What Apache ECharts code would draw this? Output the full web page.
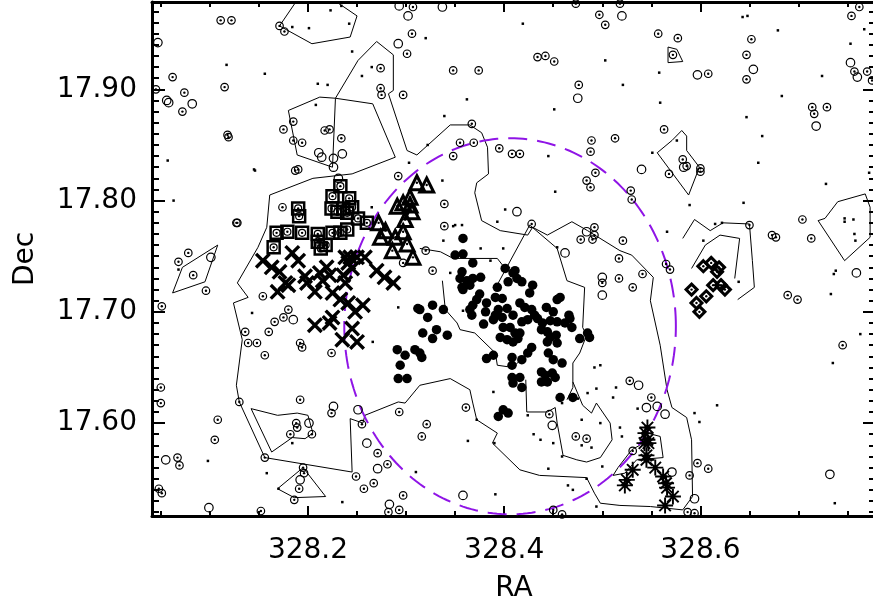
<!DOCTYPE html>
<head>
<meta charset="utf-8"/>
<style>
  html, body { margin: 0; padding: 0; background: #fff; }
</style>
<script src="https://cdn.jsdelivr.net/npm/echarts@6/dist/echarts.min.js"></script>
</head>
<body>
<div id="main" style="width: 873px; height: 602px;"></div>
<script type="text/javascript">
// axis ranges and ticks
var xMin = 328.041, xMax = 328.779;
var yMin = 17.5165, yMax = 17.9785;
var xMajor = [328.2, 328.4, 328.6];
var yMajor = [17.6, 17.7, 17.8, 17.9];
var xMinor = [];
for (var i = 1; i <= 15; i++) xMinor.push(+(328 + i * 0.05).toFixed(2));
var yMinor = [];
for (var j = 52; j <= 97; j++) yMinor.push(+(17 + j / 100).toFixed(2));

// dashed circle: centre RA, centre Dec, radius (deg)
var circleRA = 328.406, circleDec = 17.687, circleR = 0.169;

// sources with circled dot
var dottedCircles = [
  [328.111,17.962],[328.122,17.962],[328.171,17.957],[328.176,17.952],[328.062,17.911],[328.074,17.897],
  [328.115,17.902],[328.072,17.880],[328.045,17.900],[328.118,17.859],[328.119,17.857],[328.175,17.864],
  [328.185,17.871],[328.185,17.854],[328.187,17.827],[328.190,17.828],[328.174,17.794],[328.127,17.780],
  [328.078,17.753],[328.068,17.745],[328.083,17.733],[328.096,17.719],[328.154,17.714],[328.307,17.974],
  [328.306,17.950],[328.301,17.932],[328.274,17.919],[328.274,17.901],[328.275,17.895],[328.297,17.895],
  [328.348,17.917],[328.374,17.917],[328.367,17.869],[328.355,17.852],[328.369,17.852],[328.348,17.840],
  [328.497,17.967],[328.503,17.958],[328.473,17.977],[328.518,17.977],[328.557,17.950],[328.577,17.946],
  [328.572,17.931],[328.434,17.929],[328.442,17.930],[328.451,17.925],[328.476,17.904],[328.563,17.864],
  [328.489,17.854],[328.513,17.856],[328.488,17.844],[328.395,17.847],[328.408,17.842],[328.416,17.842],
  [328.582,17.837],[328.586,17.831],[328.568,17.824],[328.493,17.825],[328.484,17.818],[328.488,17.812],
  [328.529,17.809],[328.530,17.801],[328.428,17.779],[328.492,17.776],[328.492,17.769],[328.490,17.765],
  [328.478,17.765],[328.521,17.764],[328.339,17.797],[328.292,17.822],[328.339,17.777],[328.320,17.755],
  [328.517,17.748],[328.217,17.863],[328.222,17.864],[328.234,17.856],[328.194,17.852],[328.652,17.945],
  [328.647,17.931],[328.647,17.909],[328.762,17.974],[328.754,17.966],[328.757,17.916],[328.770,17.916],
  [328.775,17.908],[328.608,17.914],[328.714,17.884],[328.729,17.884],[328.716,17.878],[328.600,17.829],
  [328.600,17.826],[328.704,17.783],[328.713,17.766],[328.673,17.769],[328.677,17.767],[328.650,17.778],
  [328.565,17.743],[328.569,17.738],[328.541,17.734],[328.517,17.730],[328.531,17.722],[328.500,17.726],
  [328.689,17.715],[328.699,17.711],[328.745,17.670],[328.050,17.618],[328.130,17.619],[328.108,17.603],
  [328.105,17.585],[328.067,17.569],[328.069,17.562],[328.048,17.541],[328.051,17.537],[328.152,17.521],
  [328.156,17.569],[328.188,17.600],[328.189,17.596],[328.182,17.590],[328.204,17.590],[328.195,17.560],
  [328.196,17.555],[328.191,17.541],[328.186,17.531],[328.224,17.609],[328.192,17.621],[328.255,17.599],
  [328.271,17.573],[328.281,17.563],[328.249,17.552],[328.257,17.541],[328.267,17.546],[328.297,17.535],
  [328.282,17.520],[328.293,17.522],[328.293,17.610],[328.321,17.599],[328.316,17.588],[328.361,17.614],
  [328.446,17.608],[328.473,17.588],[328.484,17.586],[328.550,17.623],[328.528,17.638],[328.531,17.575],
  [328.597,17.564],[328.608,17.559],[328.589,17.553],[328.587,17.520],[328.594,17.519],[328.450,17.522],
  [328.459,17.518],[328.166,17.691],[328.175,17.695],[328.180,17.702],[328.136,17.682],[328.160,17.682],
  [328.139,17.672],[328.148,17.672],[328.156,17.661],[328.192,17.672],[328.194,17.668],[328.224,17.663],
  [328.128,17.780],[328.297,17.744],[328.327,17.737],[328.051,17.705],[328.050,17.632]
];
// sources shown as plain open circles
var openCircles = [
  [328.047,17.942],[328.056,17.890],[328.058,17.888],[328.082,17.887],[328.101,17.749],[328.293,17.975],
  [328.337,17.974],[328.302,17.966],[328.292,17.941],[328.520,17.966],[328.475,17.892],[328.540,17.828],
  [328.413,17.790],[328.484,17.772],[328.462,17.753],[328.211,17.843],[328.214,17.839],[328.226,17.838],
  [328.235,17.842],[328.226,17.830],[328.231,17.820],[328.654,17.918],[328.753,17.924],[328.760,17.911],
  [328.597,17.913],[328.718,17.867],[328.583,17.830],[328.759,17.735],[328.500,17.731],[328.500,17.715],
  [328.055,17.567],[328.099,17.524],[328.201,17.600],[328.226,17.615],[328.251,17.612],[328.260,17.582],
  [328.271,17.559],[328.192,17.549],[328.283,17.527],[328.358,17.535],[328.449,17.598],[328.537,17.634],
  [328.545,17.614],[328.556,17.615],[328.564,17.608],[328.571,17.556],[328.594,17.532],[328.732,17.554],
  [328.185,17.693]
];
// faint sources (small dots)
var smallDots = [
  [328.117,17.922],[328.156,17.914],[328.057,17.836],[328.145,17.828],[328.063,17.800],[328.184,17.956],
  [328.068,17.738],[328.201,17.955],[328.223,17.971],[328.234,17.975],[328.242,17.959],[328.245,17.934],
  [328.265,17.920],[328.255,17.912],[328.210,17.905],[328.220,17.904],[328.320,17.946],[328.362,17.891],
  [328.339,17.876],[328.322,17.850],[328.303,17.834],[328.419,17.959],[328.503,17.926],[328.558,17.915],
  [328.521,17.904],[328.451,17.882],[328.559,17.888],[328.445,17.840],[328.551,17.843],[328.452,17.808],
  [328.401,17.792],[328.393,17.781],[328.566,17.772],[328.337,17.818],[328.350,17.778],[328.357,17.778],
  [328.338,17.764],[328.376,17.757],[328.399,17.757],[328.208,17.886],[328.265,17.794],[328.643,17.965],
  [328.648,17.966],[328.679,17.953],[328.767,17.954],[328.753,17.941],[328.724,17.912],[328.683,17.894],
  [328.647,17.875],[328.663,17.858],[328.659,17.834],[328.576,17.854],[328.772,17.825],[328.728,17.815],
  [328.589,17.796],[328.644,17.798],[328.615,17.779],[328.622,17.780],[328.603,17.764],[328.639,17.727],
  [328.747,17.784],[328.747,17.781],[328.756,17.783],[328.757,17.770],[328.758,17.764],[328.738,17.737],
  [328.736,17.734],[328.733,17.716],[328.763,17.680],[328.735,17.654],[328.737,17.528],[328.098,17.566],
  [328.158,17.555],[328.184,17.582],[328.170,17.541],[328.235,17.529],[328.310,17.556],[328.363,17.584],
  [328.391,17.536],[328.390,17.582],[328.424,17.607],[328.430,17.590],[328.372,17.603],[328.459,17.618],
  [328.485,17.627],[328.475,17.622],[328.479,17.603],[328.498,17.600],[328.437,17.585],[328.450,17.582],
  [328.489,17.578],[328.479,17.580],[328.500,17.561],[328.459,17.570],[328.445,17.559],[328.465,17.544],
  [328.484,17.550],[328.470,17.540],[328.494,17.525],[328.514,17.632],[328.511,17.623],[328.518,17.596],
  [328.520,17.588],[328.536,17.613],[328.594,17.609],[328.599,17.601],[328.617,17.616],[328.348,17.777],
  [328.345,17.735],[328.358,17.701],[328.386,17.746],[328.454,17.758],[328.444,17.672],[328.492,17.650],
  [328.498,17.652],[328.494,17.631],[328.389,17.628],[328.146,17.827],[328.143,17.699],[328.266,17.673],
  [328.292,17.704]
];
// cluster members, filled circles
var filledCircles = [
  [328.358,17.766],[328.350,17.751],[328.358,17.752],[328.368,17.744],[328.357,17.736],[328.355,17.730],
  [328.362,17.728],[328.368,17.730],[328.376,17.731],[328.365,17.724],[328.357,17.722],[328.358,17.720],
  [328.393,17.722],[328.401,17.739],[328.411,17.737],[328.404,17.727],[328.413,17.730],[328.418,17.727],
  [328.429,17.724],[328.426,17.717],[328.391,17.713],[328.398,17.712],[328.375,17.716],[328.372,17.711],
  [328.368,17.706],[328.365,17.702],[328.382,17.708],[328.381,17.700],[328.367,17.697],[328.394,17.702],
  [328.391,17.697],[328.389,17.693],[328.398,17.695],[328.403,17.703],[328.409,17.697],[328.416,17.708],
  [328.421,17.704],[328.428,17.702],[328.431,17.697],[328.434,17.694],[328.424,17.693],[328.418,17.691],
  [328.399,17.686],[328.406,17.686],[328.396,17.677],[328.403,17.675],[328.409,17.673],[328.414,17.676],
  [328.416,17.681],[328.411,17.681],[328.379,17.689],[328.443,17.704],[328.450,17.700],[328.454,17.711],
  [328.457,17.713],[328.447,17.692],[328.439,17.690],[328.438,17.684],[328.444,17.682],[328.447,17.677],
  [328.454,17.691],[328.462,17.690],[328.467,17.694],[328.466,17.697],[328.469,17.686],[328.453,17.679],
  [328.454,17.672],[328.444,17.673],[328.428,17.668],[328.424,17.663],[328.418,17.657],[328.408,17.659],
  [328.408,17.652],[328.389,17.661],[328.382,17.658],[328.445,17.663],[328.450,17.657],[328.459,17.654],
  [328.477,17.676],[328.485,17.681],[328.487,17.677],[328.408,17.641],[328.416,17.641],[328.418,17.632],
  [328.409,17.636],[328.438,17.646],[328.442,17.643],[328.449,17.645],[328.452,17.641],[328.438,17.637],
  [328.444,17.637],[328.457,17.623],[328.470,17.623],[328.327,17.706],[328.322,17.695],[328.314,17.702],
  [328.338,17.702],[328.331,17.684],[328.342,17.679],[328.327,17.676],[328.314,17.663],[328.312,17.703],
  [328.317,17.681],[328.291,17.666],[328.299,17.661],[328.309,17.666],[328.316,17.659],[328.294,17.652],
  [328.292,17.640],[328.301,17.640],[328.394,17.606],[328.399,17.612],[328.404,17.609],[328.409,17.735]
];
var squares = [
  [328.233,17.813],[328.225,17.804],[328.242,17.802],[328.224,17.793],[328.236,17.793],[328.245,17.794],
  [328.230,17.790],[328.240,17.789],[328.251,17.784],[328.260,17.780],[328.190,17.793],[328.191,17.786],
  [328.168,17.771],[328.179,17.772],[328.194,17.771],[328.210,17.770],[328.225,17.771],[328.233,17.771],
  [328.240,17.774],[328.210,17.763],[328.218,17.760],[328.213,17.757],[328.165,17.758]
];
var triangles = [
  [328.311,17.816],[328.321,17.814],[328.304,17.803],[328.297,17.798],[328.304,17.796],[328.291,17.795],
  [328.306,17.790],[328.299,17.783],[328.272,17.780],[328.274,17.767],[328.289,17.767],[328.297,17.772],
  [328.301,17.761],[328.286,17.755],[328.307,17.749],[328.279,17.773]
];
var crosses = [
  [328.154,17.746],[328.163,17.740],[328.171,17.736],[328.184,17.753],[328.190,17.746],[328.177,17.726],
  [328.169,17.718],[328.180,17.724],[328.199,17.726],[328.207,17.718],[328.212,17.735],[328.219,17.740],
  [328.222,17.733],[328.215,17.728],[328.225,17.717],[328.238,17.749],[328.243,17.749],[328.250,17.749],
  [328.241,17.744],[328.245,17.739],[328.258,17.749],[328.236,17.733],[328.238,17.726],[328.270,17.737],
  [328.278,17.731],[328.287,17.726],[328.233,17.711],[328.241,17.708],[328.256,17.706],[328.248,17.700],
  [328.225,17.695],[328.222,17.690],[328.207,17.688],[328.245,17.685],[328.235,17.675],[328.250,17.673],
  [328.197,17.732]
];
var diamonds = [
  [328.603,17.741],[328.611,17.744],[328.619,17.740],[328.617,17.736],[328.613,17.724],[328.621,17.724],
  [328.625,17.720],[328.591,17.720],[328.606,17.714],[328.596,17.708],[328.599,17.700]
];
var asterisks = [
  [328.546,17.596],[328.544,17.591],[328.546,17.585],[328.543,17.582],[328.547,17.582],[328.545,17.571],
  [328.545,17.567],[328.554,17.560],[328.531,17.558],[328.525,17.549],[328.523,17.544],[328.562,17.552],
  [328.565,17.546],[328.566,17.542],[328.572,17.534],[328.564,17.526]
];

// density contours
var contourOuter = [
  [328.161,17.805],[328.205,17.820],[328.245,17.824],[328.289,17.839],[328.266,17.887],[328.228,17.892],
  [328.251,17.926],[328.270,17.943],[328.287,17.931],[328.287,17.899],[328.282,17.896],[328.301,17.845],
  [328.311,17.841],[328.345,17.868],[328.365,17.868],[328.377,17.861],[328.383,17.848],[328.384,17.824],
  [328.372,17.816],[328.370,17.807],[328.377,17.782],[328.396,17.773],[328.424,17.769],[328.429,17.776],
  [328.444,17.769],[328.469,17.781],[328.485,17.773],[328.518,17.755],[328.530,17.751],[328.552,17.731],
  [328.549,17.710],[328.559,17.670],[328.566,17.630],[328.571,17.614],[328.586,17.605],[328.591,17.585],
  [328.592,17.534],[328.582,17.522],[328.549,17.525],[328.518,17.526],[328.498,17.528],[328.492,17.537],
  [328.484,17.551],[328.436,17.553],[328.416,17.558],[328.388,17.582],[328.393,17.591],[328.372,17.603],
  [328.368,17.618],[328.365,17.630],[328.345,17.640],[328.314,17.634],[328.299,17.618],[328.292,17.619],
  [328.258,17.607],[328.256,17.600],[328.243,17.604],[328.245,17.556],[328.156,17.569],[328.130,17.619],
  [328.127,17.634],[328.133,17.675],[328.124,17.708],[328.139,17.713],[328.128,17.726],[328.149,17.758],
  [328.158,17.776],[328.161,17.805]
];
var contourTop = [[328.188,17.979],[328.171,17.957],[328.204,17.941],[328.243,17.947],[328.250,17.966],[328.235,17.975],[328.228,17.979]];
var contourTri = [[328.567,17.938],[328.576,17.936],[328.582,17.925],[328.567,17.924],[328.567,17.938]];
var contourPent = [[328.556,17.843],[328.571,17.854],[328.581,17.863],[328.586,17.858],[328.586,17.845],[328.599,17.830],[328.588,17.805],[328.556,17.843]];
var contourRight = [[328.720,17.782],[328.727,17.784],[328.740,17.799],[328.768,17.806],[328.773,17.794],[328.773,17.767],[328.747,17.746],[328.720,17.782]];
var contourKite = [[328.108,17.760],[328.095,17.727],[328.062,17.717],[328.072,17.740],[328.108,17.760]];
var contourLowA = [[328.142,17.613],[328.163,17.574],[328.184,17.587],[328.197,17.586],[328.205,17.591],[328.200,17.607],[328.189,17.609],[328.169,17.607],[328.142,17.613]];
var contourLowB = [[328.195,17.560],[328.169,17.541],[328.186,17.533],[328.218,17.534],[328.195,17.560]];
var contourLoop = [[328.228,17.892],[328.212,17.893],[328.180,17.881],[328.189,17.841],[328.225,17.830],[328.228,17.892]];
var contourInner = [[328.422,17.639],[328.423,17.610],[328.444,17.610],[328.452,17.614],[328.454,17.600],[328.460,17.571],[328.474,17.567],
  [328.484,17.565],[328.498,17.569],[328.510,17.585],[328.508,17.600],[328.494,17.618],[328.489,17.609],[328.480,17.616],[328.470,17.637]];
var contourStar = [[328.511,17.553],[328.516,17.560],[328.530,17.576],[328.538,17.580],[328.546,17.591],[328.559,17.588],[328.562,17.569],[328.535,17.567],[328.523,17.555],[328.511,17.553]];
var contourCoreN = [[328.314,17.757],[328.335,17.754],[328.348,17.748],[328.393,17.748],[328.401,17.739],[328.406,17.740]];
var contourCoreE = [[328.394,17.726],[328.426,17.778],[328.454,17.757],[328.464,17.728],[328.482,17.722],[328.480,17.686],[328.484,17.679],
  [328.477,17.663],[328.470,17.654],[328.470,17.632],[328.464,17.621]];
var contourCoreS = [[328.337,17.728],[328.340,17.702],[328.352,17.690],[328.355,17.684],[328.370,17.681],[328.391,17.663],[328.393,17.652],[328.409,17.650],[328.419,17.659]];
var contourDiaOut = [[328.582,17.766],[328.594,17.783],[328.610,17.773],[328.623,17.780],[328.650,17.779],[328.653,17.746],[328.655,17.722],[328.638,17.711]];
var contourDiaIn = [[328.591,17.739],[328.605,17.760],[328.620,17.769],[328.640,17.766],[328.635,17.730]];

var PURPLE = '#8f14e6';
var FONT = 'DejaVu Sans';

var myChart = echarts.init(document.getElementById('main'));

function contourSeries(pts) {
  return {
    type: 'line', data: pts, symbol: 'none', silent: true, z: 1,
    lineStyle: { color: '#000', width: 1, opacity: 1 }
  };
}

var crossPath = 'path://M0,3L3,0L20,17L17,20Z M17,0L20,3L3,20L0,17Z';
var starPath = 'path://M0,8.8L20,8.8L20,11.2L0,11.2Z M8.8,0L11.2,0L11.2,20L8.8,20Z M2,3.7L3.7,2L18,16.3L16.3,18Z M16.3,2L18,3.7L3.7,18L2,16.3Z';

var ringStyle = { color: 'rgba(0,0,0,0)', borderColor: '#000', borderWidth: 1.2, opacity: 1 };
var solid = { color: '#000', opacity: 1 };
var dotCentres = dottedCircles.concat(squares, triangles, diamonds);

function axisBase(extra) {
  var o = {
    type: 'value', splitLine: { show: false },
    axisLine: { show: false, onZero: false },
    axisLabel: { show: false }
  };
  for (var k in extra) o[k] = extra[k];
  return o;
}

var labelStyle = { color: '#000', fontFamily: FONT, fontSize: 28 };

var options = {
  animation: false,
  backgroundColor: '#fff',
  grid: { left: 152, top: 2, width: 724, height: 514, containLabel: false, outerBoundsMode: 'none' },
  xAxis: [
    axisBase({ min: xMin, max: xMax, position: 'bottom',
      axisLine: { show: true, onZero: false, lineStyle: { color: '#000', width: 3 } },
      axisTick: { show: true, inside: true, length: 10, customValues: xMajor, lineStyle: { color: '#000', width: 2 } },
      axisLabel: { show: true, customValues: xMajor, margin: 21, color: '#000', fontFamily: FONT, fontSize: 28,
        formatter: function (v) { return v.toFixed(1); } },
      name: 'RA', nameLocation: 'middle', nameGap: 59,
      nameTextStyle: labelStyle }),
    axisBase({ min: xMin, max: xMax, position: 'bottom',
      axisTick: { show: true, inside: true, length: 5, customValues: xMinor, lineStyle: { color: '#000', width: 2 } } }),
    axisBase({ min: xMin, max: xMax, position: 'top',
      axisLine: { show: true, onZero: false, lineStyle: { color: '#000', width: 3 } },
      axisTick: { show: true, inside: true, length: 10, customValues: xMajor, lineStyle: { color: '#000', width: 2 } } }),
    axisBase({ min: xMin, max: xMax, position: 'top',
      axisTick: { show: true, inside: true, length: 5, customValues: xMinor, lineStyle: { color: '#000', width: 2 } } })
  ],
  yAxis: [
    axisBase({ min: yMin, max: yMax, position: 'left',
      axisLine: { show: true, onZero: false, lineStyle: { color: '#000', width: 3 } },
      axisTick: { show: true, inside: true, length: 13, customValues: yMajor, lineStyle: { color: '#000', width: 2 } },
      axisLabel: { show: true, customValues: yMajor, margin: 15, color: '#000', fontFamily: FONT, fontSize: 28,
        padding: [22, 0, 0, 0],
        formatter: function (v) { return v.toFixed(2); } },
      name: 'Dec', nameLocation: 'middle', nameGap: 112, nameRotate: 90,
      nameTextStyle: labelStyle }),
    axisBase({ min: yMin, max: yMax, position: 'left',
      axisTick: { show: true, inside: true, length: 7, customValues: yMinor, lineStyle: { color: '#000', width: 2 } } }),
    axisBase({ min: yMin, max: yMax, position: 'right',
      axisLine: { show: true, onZero: false, lineStyle: { color: '#000', width: 3 } },
      axisTick: { show: true, inside: true, length: 13, customValues: yMajor, lineStyle: { color: '#000', width: 2 } } }),
    axisBase({ min: yMin, max: yMax, position: 'right',
      axisTick: { show: true, inside: true, length: 7, customValues: yMinor, lineStyle: { color: '#000', width: 2 } } })
  ],
  series: [
    contourSeries(contourOuter), contourSeries(contourTop), contourSeries(contourTri), contourSeries(contourPent),
    contourSeries(contourRight), contourSeries(contourKite), contourSeries(contourLowA), contourSeries(contourLowB),
    contourSeries(contourLoop), contourSeries(contourInner), contourSeries(contourStar), contourSeries(contourCoreN),
    contourSeries(contourCoreE), contourSeries(contourCoreS), contourSeries(contourDiaOut), contourSeries(contourDiaIn),
    {
      type: 'custom', silent: true, z: 2,
      renderItem: function (params, api) {
        var cx = api.value(0), cy = api.value(1), r = api.value(2);
        var pts = [];
        for (var k = 0; k <= 240; k++) {
          var t = k / 240 * Math.PI * 2;
          pts.push(api.coord([cx + r * Math.cos(t), cy + r * Math.sin(t)]));
        }
        return { type: 'polyline', shape: { points: pts },
          style: { stroke: PURPLE, lineWidth: 2, lineDash: [19, 10], fill: null } };
      },
      data: [[circleRA, circleDec, circleR]]
    },
    { type: 'scatter', data: smallDots, symbol: 'rect', symbolSize: 2.5, silent: true, z: 3,
      itemStyle: solid },
    { type: 'scatter', data: openCircles, symbol: 'circle', symbolSize: 8.5, silent: true, z: 3,
      itemStyle: ringStyle },
    { type: 'scatter', data: dottedCircles, symbol: 'circle', symbolSize: 7.5, silent: true, z: 3,
      itemStyle: ringStyle },
    { type: 'scatter', data: dotCentres, symbol: 'circle', symbolSize: 2.4, silent: true, z: 4,
      itemStyle: solid },
    { type: 'scatter', data: squares, symbol: 'rect', symbolSize: 12, silent: true, z: 4,
      itemStyle: { color: 'rgba(0,0,0,0)', borderColor: '#000', borderWidth: 2.5, opacity: 1 } },
    { type: 'scatter', data: squares, symbol: 'circle', symbolSize: 7, silent: true, z: 4,
      itemStyle: ringStyle },
    { type: 'scatter', data: triangles, symbol: 'triangle', symbolSize: 14, silent: true, z: 4,
      itemStyle: { color: 'rgba(0,0,0,0)', borderColor: '#000', borderWidth: 3, opacity: 1 } },
    { type: 'scatter', data: diamonds, symbol: 'diamond', symbolSize: 11, silent: true, z: 4,
      itemStyle: { color: 'rgba(0,0,0,0)', borderColor: '#000', borderWidth: 3, opacity: 1 } },
    { type: 'scatter', data: filledCircles, symbol: 'circle', symbolSize: 9.5, silent: true, z: 5,
      itemStyle: solid },
    { type: 'scatter', data: crosses, symbol: crossPath, symbolSize: 16, silent: true, z: 5,
      itemStyle: solid },
    { type: 'scatter', data: asterisks, symbol: starPath, symbolSize: 16, silent: true, z: 5,
      itemStyle: solid }
  ]
};

myChart.setOption(options);
</script>
</body>
